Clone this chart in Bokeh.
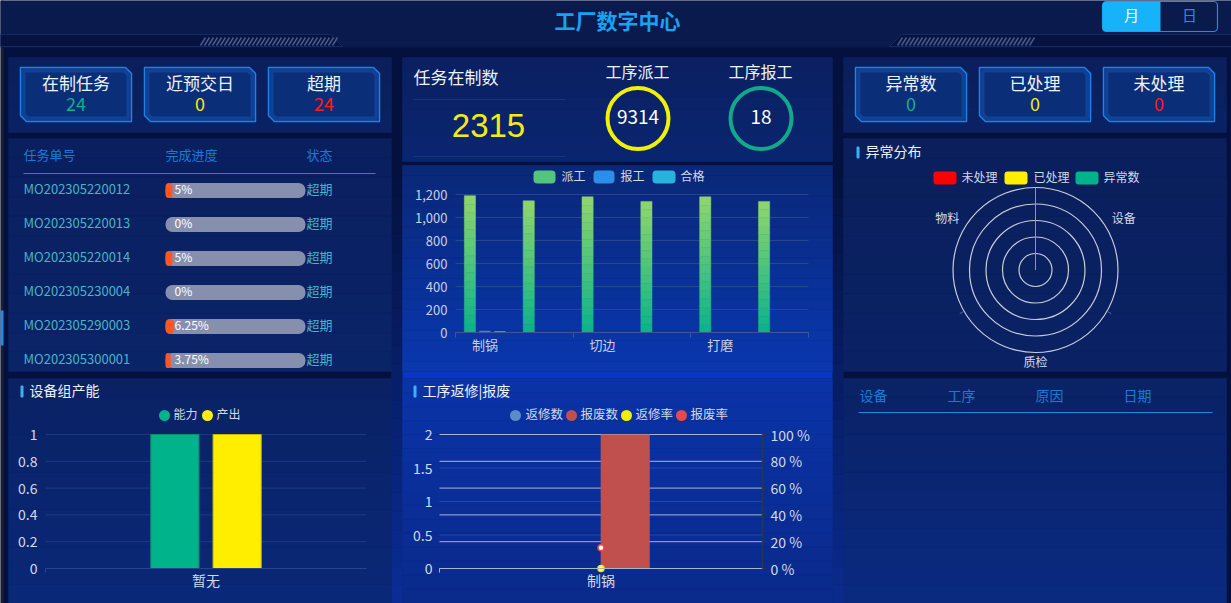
import numpy as np
from bokeh.plotting import figure
from bokeh.models import (Range1d, LinearAxis, FixedTicker, NumeralTickFormatter,
                          PrintfTickFormatter, ColumnDataSource)
from bokeh.core.properties import value
from bokeh.embed import file_html
from bokeh.resources import INLINE

FONT = "Noto Sans CJK SC"
NUMFONT = "Liberation Sans"

# ---------------- data ----------------
page_title = "工厂数字中心"
toggle_labels = ["月", "日"]

left_card_labels = ["在制任务", "近预交日", "超期"]
left_card_values = [24, 0, 24]
right_card_labels = ["异常数", "已处理", "未处理"]
right_card_values = [0, 0, 0]
card_value_colors = ["#12b08a", "#f2ea12", "#ff1a1a"]

task_header = ["任务单号", "完成进度", "状态"]
task_ids = ["MO202305220012", "MO202305220013", "MO202305220014",
            "MO202305230004", "MO202305290003", "MO202305300001"]
task_progress = [5, 0, 5, 0, 6.25, 3.75]
task_status = ["超期", "超期", "超期", "超期", "超期", "超期"]

wip_title = "任务在制数"
wip_total = 2315
dispatch_title = "工序派工"
dispatch_total = 9314
report_title = "工序报工"
report_total = 18

procs = ["制锅", "工序2", "切边", "工序4", "打磨", "工序6"]
proc_labels = ["制锅", "", "切边", "", "打磨", ""]
dispatch = [1190, 1145, 1180, 1140, 1180, 1140]
reported = [15, 0, 3, 0, 0, 0]
qualified = [12, 0, 2, 0, 0, 0]
bar_series = ["派工", "报工", "合格"]
bar_ticks = [0, 200, 400, 600, 800, 1000, 1200]

cap_title = "设备组产能"
cap_groups = ["暂无"]
capacity = [1]
cap_output = [1]
cap_series = ["能力", "产出"]
cap_ticks = [0, 0.2, 0.4, 0.6, 0.8, 1]

rw_title = "工序返修|报废"
rw_procs = ["制锅"]
rework_cnt = [0]
scrap_cnt = [2]
rework_rate = [0]
scrap_rate = [15.4]
rw_series = ["返修数", "报废数", "返修率", "报废率"]
rw_ticks = [0, 0.5, 1, 1.5, 2]
rw_pct_ticks = [0, 20, 40, 60, 80, 100]

radar_title = "异常分布"
radar_axes = ["物料", "设备", "质检"]
radar_series = ["未处理", "已处理", "异常数"]
radar_unhandled = [0, 0, 0]
radar_handled = [0, 0, 0]
radar_total = [0, 0, 0]
radar_max = 5

abn_header = ["设备", "工序", "原因", "日期"]

# ---------------- styles ----------------
W, H = 1231, 603
PAGE = "#04113f"
TXT = "#d2dae8"
WHITE = "#eef2fa"
HEAD_BLUE = "#1a7ad8"
TEAL = "#46b6c6"

p = figure(width=W, height=H, x_range=Range1d(0, W), y_range=Range1d(H, 0),
           output_backend="svg", toolbar_location=None, min_border=0,
           x_axis_location=None, y_axis_location=None,
           background_fill_color=PAGE, border_fill_color=PAGE, outline_line_color=None)
p.grid.visible = False


def mix(c1, c2, t):
    a = [int(c1[i:i + 2], 16) for i in (1, 3, 5)]
    b = [int(c2[i:i + 2], 16) for i in (1, 3, 5)]
    return "#%02x%02x%02x" % tuple(round(a[k] + (b[k] - a[k]) * t) for k in range(3))


def vgrad(x0, x1, y0, y1, c0, c1, n=24):
    e = np.linspace(y0, y1, n + 1)
    cols = [mix(c0, c1, i / (n - 1)) for i in range(n)]
    p.quad(left=x0, right=x1, top=e[:-1], bottom=e[1:], fill_color=cols, line_color=cols,
           line_width=0.6)


def T(xs, ys, texts, size, color, align="left", bold=False, font=FONT):
    p.text(x=list(xs), y=[y - 2 for y in ys], text=list(texts), text_font=value(font),
           text_font_size=f"{size}px", text_color=color, text_align=align,
           text_baseline="middle", text_font_style="bold" if bold else "normal")


def xmap(a, b, pa, pb):
    s = (b - a) / (pb - pa)
    st = a - pa * s
    return Range1d(st, st + W * s)


def ymap(a, b, pa, pb):
    s = (b - a) / (pb - pa)
    return Range1d(a + (H - pa) * s, a - pa * s)


def cards(lefts, labels, vals, colors):
    w, top, bot, c = 111, 67, 121, 6
    xs, ys, xs2, ys2 = [], [], [], []
    for l in lefts:
        r = l + w
        xs.append([l, r - c, r, r, l + c, l])
        ys.append([top, top, top + c, bot, bot, bot - c])
        xs2.append([l + 3, r - c - 1, r - 3, r - 3, l + c + 1, l + 3])
        ys2.append([top + 3, top + 3, top + c + 1, bot - 3, bot - 3, bot - c - 1])
    p.patches(xs, ys, fill_color="#0b2b74", line_color="#1e82ea", line_width=1.5)
    p.patches(xs2, ys2, fill_color="#0c3486", fill_alpha=0.3, line_color="#1a66d0",
              line_alpha=0.35, line_width=4)
    cx = [l + w / 2 for l in lefts]
    T(cx, [84] * 3, labels, 17, WHITE, "center")
    for i in range(3):
        T([cx[i]], [105], [str(vals[i])], 18, colors[i], "center")


def section_title(x, y, s):
    p.quad(left=[x], right=[x + 3], top=[y - 6], bottom=[y + 6], fill_color="#38b2f4",
           line_color=None, border_radius=1)
    T([x + 9], [y], [s], 14, WHITE)


def style_axis(ax, size="14px", color=TXT):
    ax.major_label_text_color = color
    ax.major_label_text_font = FONT
    ax.major_label_text_font_size = size
    ax.minor_tick_line_color = None
    ax.major_tick_line_color = None
    ax.major_tick_out = 0
    ax.major_tick_in = 0


# ---------------- background & panels ----------------
vgrad(391, 402, 160, 603, PAGE, "#0a2c94")
vgrad(832, 843, 160, 603, PAGE, "#0a2a8c")
p.quad(left=[402], right=[832], top=[371], bottom=[378], fill_color="#0a34c4", line_color=None)
p.quad(left=[0], right=[3], top=[0], bottom=[H], fill_color="#1c1f2e", line_color=None)
p.quad(left=[0], right=[3], top=[310], bottom=[345], fill_color="#1a8af0", line_color=None)

vgrad(8, 391, 57, 132, "#0a1f5c", "#0a2263", 6)
vgrad(8, 391, 138, 371, "#0a1f5e", "#0a2468", 12)
vgrad(8, 391, 378, 603, "#0a2264", "#0a2878", 12)
vgrad(402, 832, 57, 161, "#0a2062", "#0a2570", 8)
vgrad(402, 832, 165, 371, "#0a2878", "#0937ae", 20)
vgrad(402, 832, 378, 603, "#0a33a6", "#0a2a8c", 16)
vgrad(843, 1226, 57, 132, "#0a1f5c", "#0a2263", 6)
vgrad(843, 1226, 138, 371, "#0a1f5c", "#0a2264", 12)
vgrad(843, 1226, 378, 603, "#0a2266", "#0a2a80", 12)

# ---------------- header ----------------
p.quad(left=[0], right=[W], top=[0], bottom=[47], fill_color="#0a1a4d", line_color=None)
p.patches([[0, 330, 342, 0], [W, 901, 889, W]],
          [[34, 34, 46, 46], [34, 34, 46, 46]], fill_color="#061240", line_color="#15296a",
          line_width=1)
hx = np.arange(200, 334, 4)
p.segment(x0=hx, y0=[45] * len(hx), x1=hx + 5, y1=[37] * len(hx), line_color="#4a5a8a",
          line_width=1.5)
hx2 = np.arange(897, 1031, 4)
p.segment(x0=hx2, y0=[45] * len(hx2), x1=hx2 + 5, y1=[37] * len(hx2), line_color="#4a5a8a",
          line_width=1.5)
T([617], [21], [page_title], 21, "#1aa2f2", "center", bold=True)
p.quad(left=[1102], right=[1217], top=[1], bottom=[31], fill_color="#0a1a4d",
       line_color="#1a8ee8", line_width=1.2, border_radius=4)
p.quad(left=[1102], right=[1160], top=[1], bottom=[31], fill_color="#16b2fa",
       line_color=None, border_radius=(4, 0, 0, 4))
T([1131], [16], toggle_labels[:1], 15, "#ffffff", "center")
T([1189], [16], toggle_labels[1:], 15, "#1a8ee8", "center")

# ---------------- cards ----------------
cards([20, 144, 268], left_card_labels, left_card_values, card_value_colors)
cards([855, 979, 1103], right_card_labels, right_card_values, card_value_colors)

# ---------------- task table ----------------
T([23, 165, 306], [156, 156, 156], task_header, 13, HEAD_BLUE)
p.segment(x0=[23], y0=[173], x1=[375], y1=[173], line_color="#1a86e0", line_width=1.2)
p.extra_x_ranges["pct"] = xmap(0, 100, 165, 305)
row_y = [190 + 34 * i for i in range(len(task_ids))]
T([23] * len(task_ids), row_y, task_ids, 13, TEAL)
p.hbar(y=row_y, left=0, right=100, height=15, x_range_name="pct", fill_color="#8690ae",
       line_color=None, border_radius=7)
nz = [i for i, v in enumerate(task_progress) if v > 0]
p.hbar(y=[row_y[i] for i in nz], left=0, right=[task_progress[i] for i in nz], height=15,
       x_range_name="pct", fill_color="#ff5722", line_color=None, border_radius=7)
pct_txt = [("%g" % v) + "%" for v in task_progress]
T([174] * len(task_ids), row_y, pct_txt, 12, "#ffffff")
T([306] * len(task_ids), row_y, task_status, 13, TEAL)

# ---------------- KPI ----------------
T([413], [78], [wip_title], 17, WHITE)
p.segment(x0=[413, 413], y0=[99, 156], x1=[565, 565], y1=[99, 156], line_color="#1a3474",
          line_width=1)
T([488], [127], [str(wip_total)], 33, "#f6ea16", "center", font=NUMFONT)
T([637, 760], [72, 72], [dispatch_title, report_title], 16, WHITE, "center")
p.circle(x=[637.5], y=[118], radius=30.5, fill_color=None, line_color="#f2f200", line_width=4)
p.circle(x=[760.5], y=[118], radius=30.5, fill_color=None, line_color="#12a98a", line_width=4)
T([637.5, 760.5], [118, 118], [str(dispatch_total), str(report_total)], 19, "#ffffff", "center")

# ---------------- bar chart (派工/报工/合格) ----------------
p.quad(left=[533, 593, 652], right=[555, 614, 675], top=[170, 170, 170],
       bottom=[183, 183, 183], fill_color=["#52c67c", "#2b8ee8", "#29b3dc"], line_color=None,
       border_radius=4)
T([561, 620, 680], [176.5] * 3, bar_series, 12, TXT)

p.extra_x_ranges["bx"] = xmap(0, len(procs), 455, 808)
p.extra_y_ranges["by"] = ymap(0, 1200, 332, 194)
p.segment(x0=0, x1=len(procs), y0=bar_ticks, y1=bar_ticks, x_range_name="bx",
          y_range_name="by", line_color="#26468f", line_width=1)
pos = np.arange(len(procs)) + 0.5
NSEG = 16
gx, gb, gt, gc = [], [], [], []
for xc, v in zip(pos, dispatch):
    for k in range(NSEG):
        gx.append(xc - 0.255)
        gb.append(v * k / NSEG)
        gt.append(v * (k + 1) / NSEG)
        gc.append(mix("#0fb38a", "#8cd46e", k / (NSEG - 1)))
p.vbar(x="x", bottom="b", top="t", width=0.19, fill_color="c", line_color="c",
       line_width=0.5, source=ColumnDataSource(dict(x=gx, b=gb, t=gt, c=gc)),
       x_range_name="bx", y_range_name="by")
p.vbar(x=pos, top=reported, width=0.19, fill_color="#2b8ee8", line_color=None,
       x_range_name="bx", y_range_name="by")
p.vbar(x=pos + 0.255, top=qualified, width=0.19, fill_color="#29b3dc", line_color=None,
       x_range_name="bx", y_range_name="by")
bya = LinearAxis(x_range_name="bx", y_range_name="by", fixed_location=0, bounds=(0, 1200),
                 ticker=FixedTicker(ticks=bar_ticks), formatter=NumeralTickFormatter(format="0,0"))
style_axis(bya, "13px", "#c8d0e4")
bya.axis_line_color = None
bya.major_label_standoff = 8
p.add_layout(bya, "left")
lab_pos = [float(x) for x, l in zip(pos, proc_labels) if l]
bxa = LinearAxis(x_range_name="bx", y_range_name="by", fixed_location=0,
                 bounds=(0, len(procs)),
                 ticker=FixedTicker(ticks=lab_pos, minor_ticks=list(range(0, len(procs) + 1, 2))),
                 major_label_overrides={float(x): l for x, l in zip(pos, proc_labels) if l})
style_axis(bxa, "13px", "#c8d0e4")
bxa.axis_line_color = "#3d5692"
bxa.minor_tick_line_color = "#3d5692"
bxa.minor_tick_out = 5
bxa.minor_tick_in = 0
bxa.major_label_standoff = -3
p.add_layout(bxa, "below")

# ---------------- capacity chart ----------------
section_title(20, 391, cap_title)
p.scatter(x=[164, 207], y=[415, 415], size=11, fill_color=["#00b38a", "#ffee00"],
          line_color=None)
T([173, 216], [415, 415], cap_series, 12, TXT)
p.extra_x_ranges["cx"] = xmap(0, len(cap_groups), 45, 366)
p.extra_y_ranges["cy"] = ymap(0, 1, 568, 434)
p.segment(x0=0, x1=len(cap_groups), y0=cap_ticks, y1=cap_ticks, x_range_name="cx",
          y_range_name="cy", line_color="#1d3a80", line_width=1)
cpos = np.arange(len(cap_groups)) + 0.5
p.vbar(x=cpos - 0.097, top=capacity, width=0.15, fill_color="#00b38a", line_color="#0a8f70",
       x_range_name="cx", y_range_name="cy")
p.vbar(x=cpos + 0.097, top=cap_output, width=0.15, fill_color="#ffee00", line_color="#c8b800",
       x_range_name="cx", y_range_name="cy")
cya = LinearAxis(x_range_name="cx", y_range_name="cy", fixed_location=0, bounds=(0, 1),
                 ticker=FixedTicker(ticks=cap_ticks), formatter=NumeralTickFormatter(format="0.[0]"))
style_axis(cya)
cya.axis_line_color = None
cya.major_label_standoff = 8
p.add_layout(cya, "left")
cxa = LinearAxis(x_range_name="cx", y_range_name="cy", fixed_location=0,
                 bounds=(0, len(cap_groups)),
                 ticker=FixedTicker(ticks=[float(x) for x in cpos], minor_ticks=[0]),
                 major_label_overrides={float(x): g for x, g in zip(cpos, cap_groups)})
style_axis(cxa)
cxa.axis_line_color = "#2a4488"
cxa.minor_tick_line_color = "#2a4488"
cxa.minor_tick_out = 4
cxa.minor_tick_in = 0
cxa.major_label_standoff = -3
p.add_layout(cxa, "below")

# ---------------- rework / scrap chart ----------------
section_title(413, 391, rw_title)
p.scatter(x=[515, 571, 626, 681], y=[415] * 4, size=11,
          fill_color=["#5b8bc8", "#c0504d", "#f0f000", "#e84a4a"], line_color=None)
T([525, 580, 635, 690], [415] * 4, rw_series, 12.5, TXT)
p.extra_x_ranges["rx"] = xmap(0, len(rw_procs), 439, 762)
p.extra_y_ranges["ry"] = ymap(0, 2, 568, 434)
p.extra_y_ranges["rp"] = ymap(0, 100, 568, 434)
p.segment(x0=0, x1=len(rw_procs), y0=rw_ticks[1:-1], y1=rw_ticks[1:-1], x_range_name="rx",
          y_range_name="ry", line_color="#3a5cb8", line_alpha=0.55, line_width=1)
p.segment(x0=0, x1=len(rw_procs), y0=rw_pct_ticks, y1=rw_pct_ticks, x_range_name="rx",
          y_range_name="rp", line_color="#c4cde0", line_alpha=0.85, line_width=1)
rpos = np.arange(len(rw_procs)) + 0.5
p.vbar(x=rpos - 0.075, top=rework_cnt, width=0.152, fill_color="#5b8bc8", line_color=None,
       x_range_name="rx", y_range_name="ry")
p.vbar(x=rpos + 0.075, top=scrap_cnt, width=0.152, fill_color="#c0504d", line_color=None,
       x_range_name="rx", y_range_name="ry")
p.scatter(x=rpos, y=rework_rate, size=6, fill_color="#ffff80", line_color="#f0f000",
          line_width=1.5, x_range_name="rx", y_range_name="rp")
p.scatter(x=rpos, y=scrap_rate, size=6, fill_color="#ffffff", line_color="#e84a4a",
          line_width=1.5, x_range_name="rx", y_range_name="rp")
rya = LinearAxis(x_range_name="rx", y_range_name="ry", fixed_location=0, bounds=(0, 2),
                 ticker=FixedTicker(ticks=rw_ticks), formatter=NumeralTickFormatter(format="0.[0]"))
style_axis(rya)
rya.axis_line_color = None
rya.major_label_standoff = 7
p.add_layout(rya, "left")
rpa = LinearAxis(x_range_name="rx", y_range_name="rp", fixed_location=len(rw_procs),
                 bounds=(0, 100), ticker=FixedTicker(ticks=rw_pct_ticks),
                 formatter=PrintfTickFormatter(format="%d %%"))
style_axis(rpa)
rpa.axis_line_color = "#2c3550"
rpa.axis_line_width = 1.5
rpa.major_tick_line_color = "#2c3550"
rpa.major_tick_out = 4
rpa.major_tick_in = 0
rpa.major_label_standoff = 4
p.add_layout(rpa, "right")
rxa = LinearAxis(x_range_name="rx", y_range_name="ry", fixed_location=0,
                 bounds=(0, len(rw_procs)),
                 ticker=FixedTicker(ticks=[float(x) for x in rpos], minor_ticks=[0]),
                 major_label_overrides={float(x): g for x, g in zip(rpos, rw_procs)})
style_axis(rxa)
rxa.axis_line_color = "#a8b4cc"
rxa.minor_tick_line_color = "#a8b4cc"
rxa.minor_tick_out = 4
rxa.minor_tick_in = 0
rxa.major_label_standoff = -3
p.add_layout(rxa, "below")

# ---------------- radar ----------------
section_title(856, 152, radar_title)
p.quad(left=[933, 1004, 1075], right=[956, 1027, 1098], top=[171, 171, 171],
       bottom=[184, 184, 184], fill_color=["#ff0000", "#ffee00", "#00b38a"], line_color=None,
       border_radius=3)
T([961, 1033, 1103], [177.5] * 3, radar_series, 12, TXT)
CX, CY, R = 1035, 269.5, 82.5
levels = np.arange(1, radar_max + 1)
p.circle(x=[CX] * len(levels), y=[CY] * len(levels), radius=R * levels / radar_max,
         fill_color=None, line_color="#c8ccd8", line_width=1.2)
ang = np.radians([90, 210, 330])
p.segment(x0=list(CX + R * np.cos(ang[1:])), y0=list(CY - R * np.sin(ang[1:])),
          x1=list(CX + (R + 5) * np.cos(ang[1:])), y1=list(CY - (R + 5) * np.sin(ang[1:])),
          line_color="#5a6690", line_width=1)
p.segment(x0=[CX], y0=[CY], x1=[CX], y1=[CY - R], line_color="#8d95ad", line_width=1)
for vals, col in ((radar_unhandled, "#ff0000"), (radar_handled, "#ffee00"),
                  (radar_total, "#00b38a")):
    rr = np.array(vals) / radar_max * R
    p.patch(list(CX + rr * np.cos(ang)), list(CY - rr * np.sin(ang)), fill_alpha=0.2,
            fill_color=col, line_color=col)
lab_ang = np.radians([150, 30, 270])
lab_r = np.array([102, 102, 93])
T(CX + lab_r * np.cos(lab_ang), CY - lab_r * np.sin(lab_ang), radar_axes, 12, TXT, "center")

# ---------------- abnormal table ----------------
T([859, 947, 1035, 1123], [396] * 4, abn_header, 14, HEAD_BLUE)
p.segment(x0=[858], y0=[412], x1=[1212], y1=[412], line_color="#1a8ae0", line_width=1.2)

open("out.html", "w").write(file_html(p, INLINE))
